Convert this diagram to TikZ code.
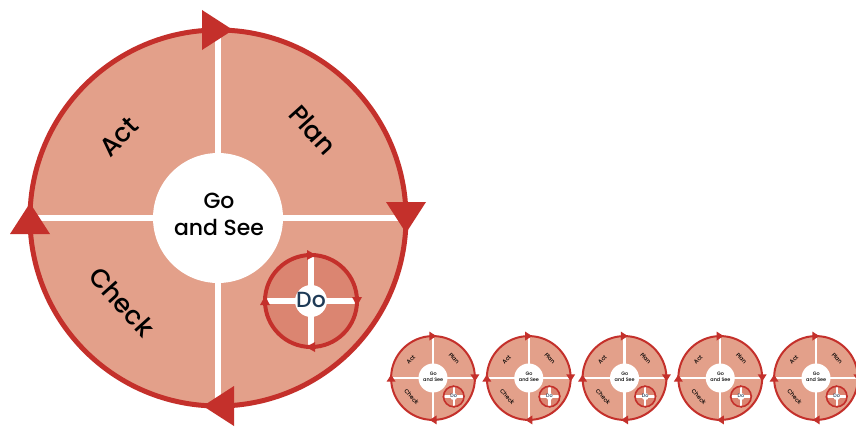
\documentclass[tikz,border=0pt]{standalone}
\usepackage{fontspec}
\setmainfont{Poppins}[UprightFont={* Medium}]
\usepackage{tikz}
\definecolor{pdred}{HTML}{C4302B}
\definecolor{pdfill}{HTML}{E3A08A}
\definecolor{dofill}{HTML}{DB8571}
\definecolor{dotext}{HTML}{1E3A56}
\def\lf{1}
\tikzset{
  ring/.style={draw=pdred,line width=5*\lf},
  bar/.style={draw=white,line width=6*\lf},
  tip/.style={fill=pdred},
  phase/.style={font=\fontsize{26}{30}\selectfont,inner sep=0pt},
  hub/.style={font=\fontsize{22}{27}\selectfont,align=center,inner sep=0pt},
  dolbl/.style={font=\fontsize{22}{26}\selectfont,text=dotext,inner sep=0pt},
}
% one full cycle: #1 name, #2 x, #3 y, #4 scale, #5 line factor
\newcommand\pdca[5]{%
  \begin{scope}[shift={(#2,#3)},scale=#4,every node/.append style={transform shape}]
    \def\lf{#5}
    \fill[pdfill] (0,0) circle (188);
    \draw[bar] (0,-188) -- (0,188) (-188,0) -- (188,0);
    \fill[white] (0,0) circle (65);
    \node[hub] (#1-go) at (1,4) {Go\\and See};
    \node[phase,rotate=-48] (#1-plan) at (95,88) {Plan};
    \node[phase,rotate=45] (#1-act) at (-99,81) {Act};
    \node[phase,rotate=-48] (#1-check) at (-96,-84) {Check};
    % the small do-cycle
    \begin{scope}[shift={(93,-83)}]
      \fill[dofill] (0,0) circle (46);
      \draw[bar] (0,-46) -- (0,46) (-46,0) -- (46,0);
      \fill[white] (0,0) circle (16);
      \node[dolbl] (#1-do) at (0,1) {Do};
      \draw[ring,line width=4*\lf] (0,0) circle (46);
      \foreach \r in {0,-90,-180,-270}
        \fill[tip,rotate=\r] (-4,51) -- (-4,41) -- (5,46) -- cycle;
    \end{scope}
    \draw[ring] (0,0) circle (188);
    \foreach \r in {0,-90,-180,-270}
      \fill[tip,rotate=\r] (-16,208) -- (-16,168) -- (15,188) -- cycle;
  \end{scope}}

\begin{document}
\begin{tikzpicture}[x=1bp,y=1bp]
  \fill[white] (0,0) rectangle (856,428);
  \useasboundingbox (0,0) rectangle (856,428);
  \pdca{big}{218}{210}{1}{1}
  \foreach \i in {0,...,4}{
    \pdca{c\i}{433+95.75*\i}{50}{0.223}{0.4}
  }
\end{tikzpicture}
\end{document}
